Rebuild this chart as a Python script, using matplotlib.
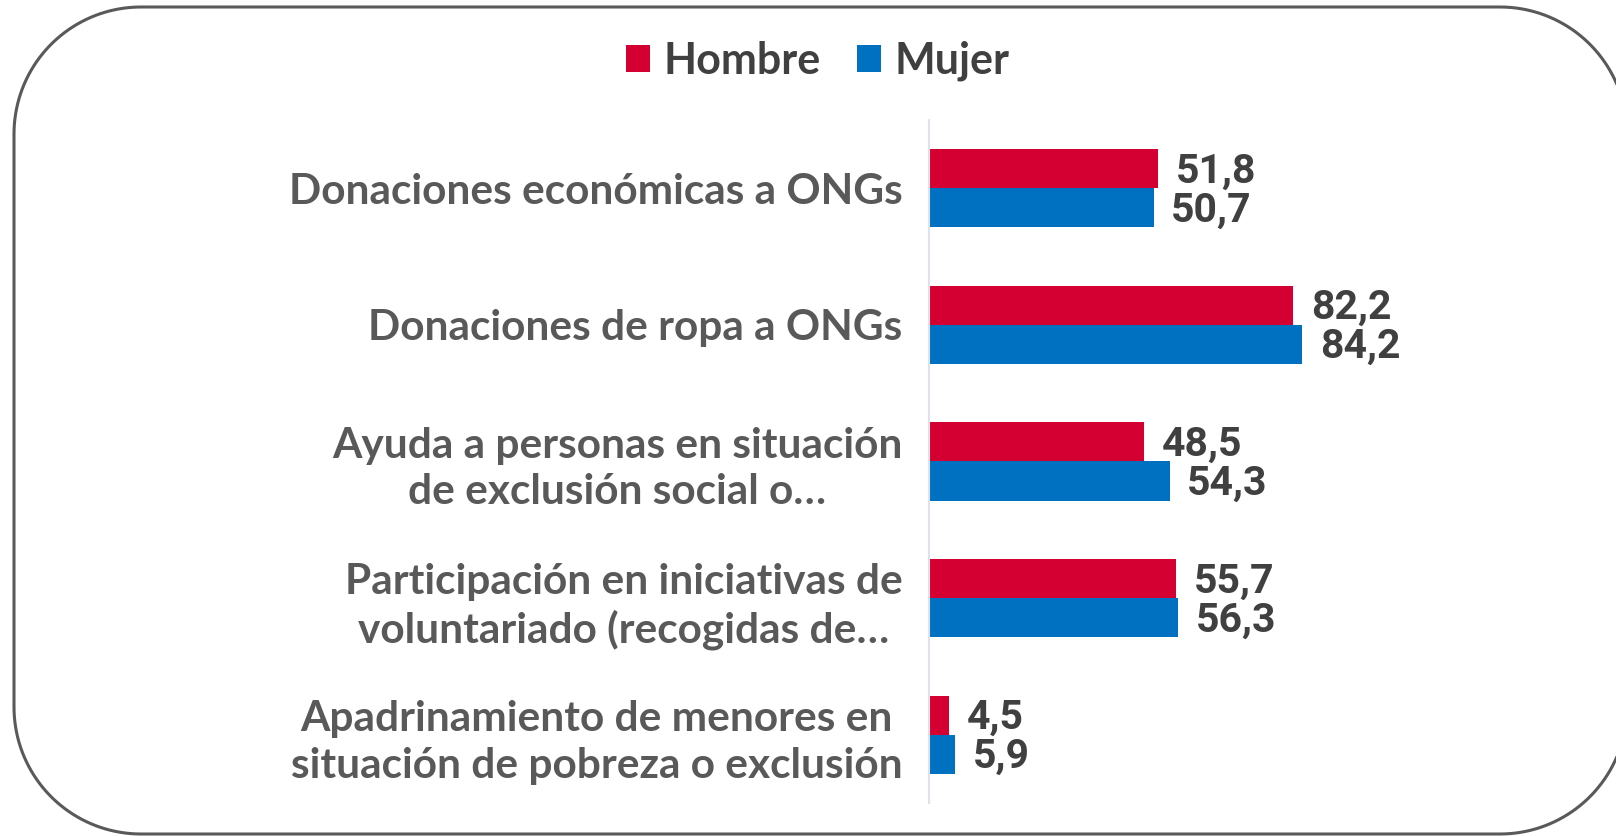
import matplotlib.pyplot as plt
import numpy as np
from matplotlib.patches import Patch, Polygon

categories = [
    "Donaciones económicas a ONGs",
    "Donaciones de ropa a ONGs",
    "Ayuda a personas en situación\nde exclusión social o…",
    "Participación en iniciativas de\nvoluntariado (recogidas de…",
    "Apadrinamiento de menores en\nsituación de pobreza o exclusión",
]
hombre = [51.8, 82.2, 48.5, 55.7, 4.5]
mujer = [50.7, 84.2, 54.3, 56.3, 5.9]
series_names = ["Hombre", "Mujer"]

RED = "#D40032"
BLUE = "#0070C0"
W, H = 1616, 836


def rounded_rect(x0, y0, x1, y1, r, n=40):
    # outline of a rectangle with circular corners, in pixel coordinates
    pts = []
    corners = [(x1 - r, y0 + r, -90, 0), (x1 - r, y1 - r, 0, 90),
               (x0 + r, y1 - r, 90, 180), (x0 + r, y0 + r, 180, 270)]
    for cx, cy, a0, a1 in corners:
        a = np.radians(np.linspace(a0, a1, n))
        pts.append(np.column_stack([cx + r * np.cos(a), cy + r * np.sin(a)]))
    return np.vstack(pts)


fig = plt.figure(figsize=(W / 100, H / 100), dpi=100)

# rounded frame drawn in a pixel-space background axes
bg = fig.add_axes([0, 0, 1, 1], zorder=0)
bg.set_xlim(0, W)
bg.set_ylim(H, 0)
bg.axis("off")
frame = Polygon(rounded_rect(14, 7, 1627, 834, 127), closed=True, fill=False,
                edgecolor="#595959", linewidth=2.2, joinstyle="round")
bg.add_patch(frame)

# bar chart axes: x axis at 929 px, 4.43 px per unit
left_px, right_px, top_px, bot_px = 929, 1540, 120, 803
ax = fig.add_axes([left_px / W, 1 - bot_px / H, (right_px - left_px) / W, (bot_px - top_px) / H], zorder=1)
ax.patch.set_alpha(0)

y = np.arange(len(categories))
bh = 0.286
ax.barh(y - bh / 2, hombre, height=bh, color=RED, label=series_names[0])
ax.barh(y + bh / 2, mujer, height=bh, color=BLUE, label=series_names[1])

for yi, v in zip(y, hombre):
    ax.text(v + 4.0, yi - bh / 2 + 0.02, f"{v:.1f}".replace(".", ","), va="center", ha="left",
            fontsize=29.5, fontweight="bold", color="#404040", family="Roboto")
for yi, v in zip(y, mujer):
    ax.text(v + 4.0, yi + bh / 2 + 0.02, f"{v:.1f}".replace(".", ","), va="center", ha="left",
            fontsize=29.5, fontweight="bold", color="#404040", family="Roboto")

ax.set_xlim(0, (right_px - left_px) / 4.43)
ax.set_ylim(len(categories) - 0.5, -0.5)
ax.set_yticks(y)
ax.set_yticklabels(categories, fontsize=30.5, fontweight="bold", color="#595959",
                   family="Lato", multialignment="center", linespacing=1.27)
ax.tick_params(axis="y", length=0, pad=19)
ax.set_xticks([])
for s in ["top", "right", "bottom"]:
    ax.spines[s].set_visible(False)
ax.spines["left"].set_color("#DCE3EB")
ax.spines["left"].set_linewidth(1.5)

handles = [Patch(facecolor=RED), Patch(facecolor=BLUE)]
fig.legend(handles, series_names, loc="center", bbox_to_anchor=(0.506, 0.927), ncol=2,
           frameon=False, handlelength=0.56, handleheight=0.56, handletextpad=0.3, columnspacing=0.85,
           prop={"family": "Lato", "weight": "bold", "size": 31}, labelcolor="#404040")

fig.savefig("out.png", dpi=100)
